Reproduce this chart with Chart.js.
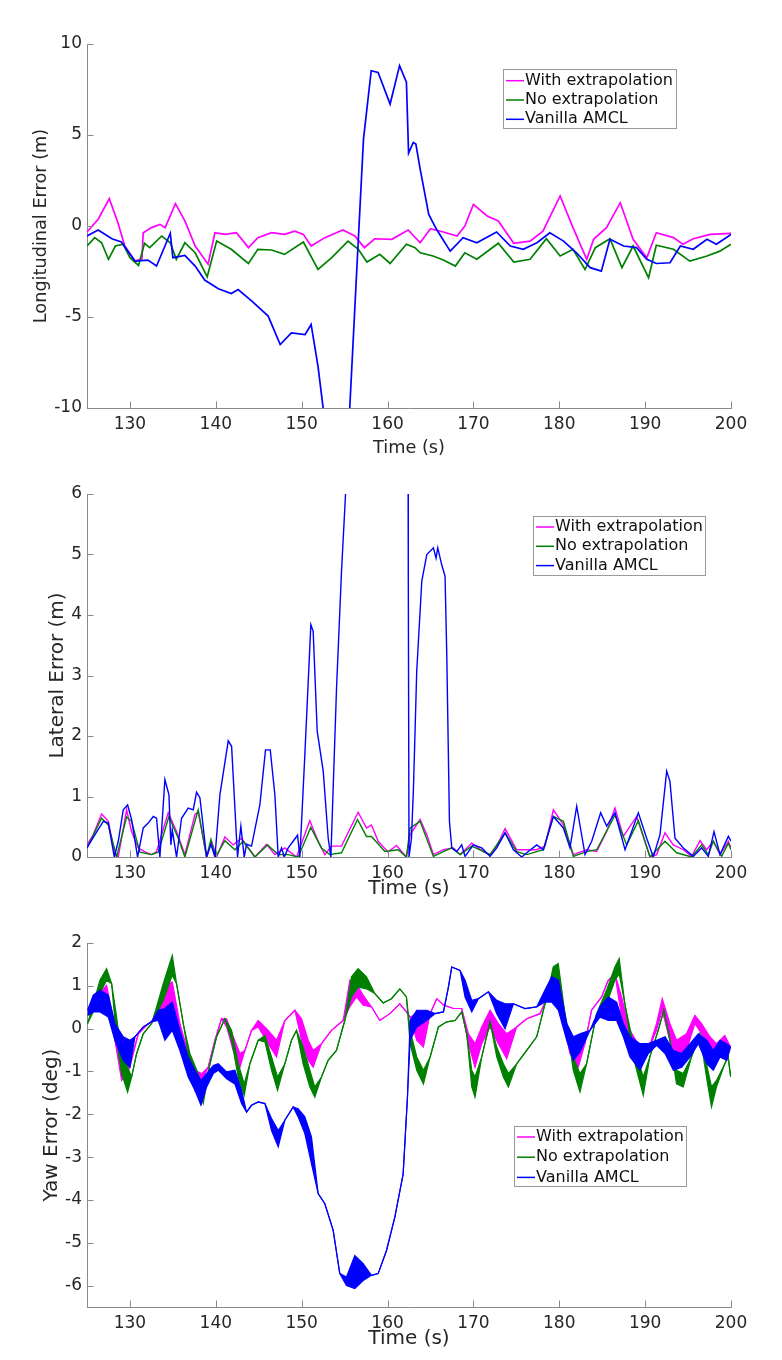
<!DOCTYPE html>
<html>
<head>
<meta charset="utf-8">
<script src="https://cdn.jsdelivr.net/npm/chart.js@4.4.1/dist/chart.umd.min.js"></script>
<style>
  html, body { margin: 0; padding: 0; background: #fff; }
  body { width: 782px; height: 1360px; position: relative; overflow: hidden; }
  .panel { position: absolute; left: 0; width: 782px; }
</style>
</head>
<body>
<div class="panel" style="top:0;height:470px"><canvas id="lonChart" width="782" height="470"></canvas></div>
<div class="panel" style="top:470px;height:450px"><canvas id="latChart" width="782" height="450"></canvas></div>
<div class="panel" style="top:920px;height:440px"><canvas id="yawChart" width="782" height="440"></canvas></div>
<script>
// ---- data ----
const seriesNames = ['With extrapolation', 'No extrapolation', 'Vanilla AMCL'];
const xTickVals = [130, 140, 150, 160, 170, 180, 190, 200];
const lonTickVals = [-10, -5, 0, 5, 10];
const latTickVals = [0, 1, 2, 3, 4, 5, 6];
const yawTickVals = [-6, -5, -4, -3, -2, -1, 0, 1, 2];

// Longitudinal error (m)
const lonWithT = [125, 126.3, 127.6, 128.6, 129.4, 130.6, 131.4, 131.55, 132.5, 133.5, 134.1, 135.3, 136.4, 137.6, 139.1, 139.9, 141.1, 142.4, 143.8, 144.9, 146.5, 148.0, 149.2, 150.2, 151.1, 152.7, 154.8, 156.2, 157.3, 158.5, 160.5, 162.4, 163.8, 165.0, 166.5, 168.1, 169.0, 170.0, 171.6, 172.9, 174.7, 176.6, 178.1, 180.1, 181.6, 183.2, 184.0, 185.5, 187.1, 188.6, 190.2, 191.3, 193.3, 194.4, 195.6, 197.6, 200];
const lonWithV = [-0.33, 0.37, 1.5, 0.18, -1.1, -1.93, -1.8, -0.37, -0.09, 0.09, -0.09, 1.23, 0.28, -1.1, -2.1, -0.37, -0.46, -0.37, -1.19, -0.64, -0.37, -0.46, -0.28, -0.46, -1.1, -0.64, -0.22, -0.55, -1.19, -0.7, -0.73, -0.22, -0.92, -0.15, -0.33, -0.55, 0, 1.19, 0.55, 0.28, -0.95, -0.83, -0.28, 1.65, -0.09, -1.83, -0.73, -0.09, 1.28, -0.73, -1.74, -0.37, -0.64, -1.0, -0.7, -0.46, -0.4];
const lonNoT = [125, 125.9, 126.7, 127.5, 128.3, 129.2, 130.0, 131.0, 131.7, 132.3, 133.7, 134.7, 135.4, 136.4, 137.6, 139.0, 140.1, 141.8, 143.8, 144.9, 146.5, 148.0, 150.2, 151.9, 153.5, 155.4, 156.6, 157.6, 159.1, 160.3, 162.2, 163.2, 163.8, 165.3, 166.5, 167.9, 169.0, 170.4, 172.9, 174.7, 176.6, 178.5, 180.1, 181.6, 183.0, 184.2, 185.9, 187.3, 188.6, 190.4, 191.3, 193.3, 195.2, 197.2, 198.7, 200];
const lonNoV = [-1.1, -0.64, -0.92, -1.83, -1.1, -1.0, -1.74, -2.17, -0.95, -1.19, -0.55, -0.92, -1.83, -0.92, -1.47, -2.79, -0.83, -1.28, -2.06, -1.28, -1.32, -1.56, -0.88, -2.39, -1.74, -0.83, -1.28, -1.98, -1.56, -2.06, -1.0, -1.19, -1.47, -1.65, -1.87, -2.2, -1.47, -1.83, -0.95, -1.98, -1.83, -0.7, -1.65, -1.28, -2.39, -1.19, -0.7, -2.29, -1.1, -2.84, -1.06, -1.28, -1.93, -1.65, -1.38, -1.0];
const lonAmclT = [125, 126.3, 127.9, 129.0, 130.6, 132.1, 133.1, 134.7, 135.0, 136.4, 137.6, 138.7, 140.3, 141.8, 142.6, 144.2, 146.1, 147.5, 148.8, 150.4, 151.1, 151.9, 152.5, 153.2, 155.0, 155.6, 156.4, 157.2, 158.1, 158.9, 160.3, 161.4, 162.2, 162.45, 163.0, 163.3, 163.8, 164.8, 165.7, 167.3, 168.8, 170.4, 172.7, 174.3, 175.8, 177.4, 178.9, 180.5, 182.0, 183.6, 184.9, 185.9, 187.5, 189.0, 190.2, 191.3, 192.9, 194.1, 195.6, 197.2, 198.3, 200];
const lonAmclV = [-0.55, -0.22, -0.7, -0.88, -1.93, -1.87, -2.2, -0.4, -1.74, -1.61, -2.2, -2.97, -3.45, -3.71, -3.49, -4.13, -4.95, -6.51, -5.87, -5.96, -5.41, -7.7, -10, -12.5, -12.5, -10, -2.57, 4.77, 8.53, 8.44, 6.7, 8.81, 7.9, 4.0, 4.59, 4.5, 3.12, 0.64, -0.18, -1.38, -0.64, -0.92, -0.33, -1.1, -1.28, -0.92, -0.37, -0.83, -1.47, -2.29, -2.48, -0.73, -1.1, -1.19, -1.83, -2.06, -2.02, -1.1, -1.28, -0.73, -1.0, -0.46];

// Lateral error (m)
const latWithT = [125, 125.73, 126.7, 127.48, 128.25, 128.64, 129.61, 130.19, 130.97, 131.94, 132.52, 133.1, 134.46, 135.43, 136.4, 137.57, 137.95, 138.93, 139.51, 140.09, 141.06, 142.03, 143.0, 144.55, 145.91, 146.88, 148.04, 149.4, 150.95, 151.92, 152.7, 153.47, 154.64, 156.58, 157.55, 158.13, 158.91, 160.07, 161.04, 162.2, 162.63, 163.79, 164.57, 165.34, 166.5, 167.67, 168.45, 169.81, 171.16, 171.94, 172.72, 173.69, 175.04, 176.21, 177.37, 178.34, 179.31, 180.48, 181.64, 183.19, 184.36, 185.52, 186.49, 187.46, 189.01, 190.57, 191.34, 192.31, 193.28, 194.45, 195.42, 196.39, 197.16, 197.94, 198.72, 199.69, 200];
const latWithV = [0.2, 0.37, 0.71, 0.59, 0.04, 0, 0.78, 0.42, 0.15, 0.07, 0.04, 0.09, 0.73, 0.42, 0.04, 0.7, 0.75, 0, 0.26, 0, 0.33, 0.2, 0.31, 0, 0.21, 0.04, 0.15, 0, 0.6, 0.26, 0.04, 0.18, 0.18, 0.74, 0.48, 0.53, 0.26, 0.08, 0.19, 0, 0.37, 0.62, 0.37, 0.04, 0.12, 0.15, 0.04, 0.23, 0.09, 0.04, 0.18, 0.47, 0.12, 0.12, 0.12, 0.18, 0.78, 0.53, 0.04, 0.12, 0.09, 0.42, 0.81, 0.34, 0.67, 0, 0.04, 0.4, 0.2, 0.12, 0.01, 0.27, 0.12, 0.26, 0.04, 0.26, 0.15];
const latNoT = [125, 126.7, 127.48, 128.45, 129.61, 130.19, 131.16, 132.52, 133.3, 134.54, 135.63, 136.4, 137.95, 138.93, 139.43, 139.98, 141.06, 142.22, 143.19, 144.55, 146.03, 147.27, 148.43, 149.59, 151.06, 152.3, 153.27, 154.64, 156.5, 157.55, 158.13, 159.69, 161.24, 162.2, 162.63, 163.79, 165.34, 166.5, 167.48, 168.45, 169.81, 171.94, 173.69, 175.04, 176.21, 178.15, 179.31, 180.48, 181.64, 183.19, 184.36, 186.49, 187.85, 189.21, 190.57, 192.31, 193.67, 195.42, 196.58, 197.36, 197.94, 198.91, 199.69, 200];
const latNoV = [0.15, 0.64, 0.53, 0, 0.66, 0.59, 0.08, 0.04, 0.08, 0.67, 0.31, 0, 0.78, 0, 0.29, 0, 0.27, 0.12, 0.26, 0, 0.2, 0.04, 0.04, 0, 0.49, 0.15, 0.04, 0.07, 0.62, 0.34, 0.34, 0.09, 0.12, 0, 0.48, 0.59, 0.01, 0.09, 0.15, 0.04, 0.18, 0.04, 0.4, 0.09, 0.04, 0.12, 0.67, 0.59, 0.01, 0.09, 0.12, 0.69, 0.2, 0.6, 0, 0.26, 0.07, 0, 0.2, 0.04, 0.26, 0.01, 0.23, 0.12];
const latAmclT = [125, 125.93, 126.9, 127.48, 128.18, 128.64, 129.22, 129.73, 130.19, 130.89, 131.55, 132.13, 132.72, 133.1, 133.49, 134.07, 134.54, 134.77, 134.93, 135.43, 136.01, 136.79, 137.37, 137.76, 138.15, 138.93, 139.43, 139.9, 140.48, 141.45, 141.84, 142.53, 142.92, 143.31, 143.58, 144.16, 145.13, 145.79, 146.34, 146.88, 147.27, 147.66, 147.97, 148.43, 149.01, 149.52, 149.79, 150.37, 151.07, 151.34, 151.81, 152.51, 153.09, 153.4, 154.06, 154.64, 155.11, 155.6, 162.2, 162.4, 162.42, 162.5, 162.79, 163.02, 163.4, 163.99, 164.57, 165.34, 165.65, 165.85, 166.31, 166.7, 166.9, 167.21, 167.48, 168.06, 168.64, 169.03, 170.0, 170.97, 171.94, 172.72, 173.69, 174.66, 175.63, 176.21, 177.37, 178.15, 179.31, 180.48, 181.25, 182.03, 183.0, 183.78, 184.82, 185.52, 186.49, 187.66, 189.21, 190.18, 190.95, 191.73, 192.51, 192.89, 193.48, 194.45, 195.61, 196.58, 197.36, 198.02, 198.72, 199.69, 200];
const latAmclV = [0.15, 0.37, 0.59, 0.56, 0, 0.26, 0.78, 0.86, 0.62, 0, 0.48, 0.56, 0.67, 0.64, 0, 1.28, 1.03, 0.2, 0.45, 0, 0.64, 0.81, 0.78, 1.07, 0.98, 0, 0.21, 0, 1.03, 1.92, 1.83, 0, 0.51, 0, 0.21, 0.18, 0.86, 1.77, 1.77, 1.03, 0, 0.15, 0, 0.15, 0.26, 0.36, 0, 1.69, 3.84, 3.73, 2.08, 1.42, 0.31, 0, 2.79, 4.72, 6, 7.5, 7.5, 6, 4.55, 0, 0.31, 1.14, 3.07, 4.56, 5.0, 5.11, 4.94, 5.11, 4.83, 4.64, 3.34, 0.59, 0.15, 0.09, 0.2, 0.01, 0.2, 0.15, 0.01, 0.15, 0.4, 0.12, 0, 0.07, 0.2, 0.12, 0.67, 0.48, 0.15, 0.84, 0.04, 0.26, 0.73, 0.51, 0.73, 0.12, 0.73, 0.31, 0, 0.37, 1.42, 1.25, 0.31, 0.15, 0.01, 0.15, 0.01, 0.42, 0.04, 0.34, 0.26];

// Yaw error (deg): upper / lower edge of each trace (the traces jitter into bands)
const yawWithT = [125.07, 126.31, 127.28, 128.25, 129.03, 130, 130.97, 131.94, 132.91, 133.49, 134.27, 134.93, 135.82, 136.79, 137.57, 138.35, 139.12, 139.9, 140.67, 141.26, 142.03, 142.81, 143.39, 144.16, 144.94, 146.1, 147.07, 148.04, 149.21, 149.98, 150.76, 151.34, 152.31, 153.47, 154.83, 155.61, 156.39, 157.16, 158.13, 159.1, 160.27, 161.43, 162.2, 162.63, 163.4, 164.18, 164.96, 165.73, 166.51, 167.67, 168.64, 169.42, 170.19, 170.97, 171.94, 172.91, 173.88, 175.04, 176.21, 177.76, 178.53, 179.3, 180.27, 181.24, 182.21, 182.99, 183.76, 184.93, 185.7, 186.48, 187.26, 188.23, 189.39, 190.36, 191.33, 191.99, 192.88, 193.66, 194.82, 195.79, 196.57, 197.54, 198.31, 199.28, 199.96];
const yawWithHi = [0.47, 0.78, 1.01, 0.04, -0.66, -0.82, -0.12, 0.08, 0.23, 0.5, 1.01, 1.09, 0.12, -0.58, -0.97, -1.05, -0.9, -0.27, 0.23, 0.23, -0.19, -0.58, -0.51, -0.04, 0.19, -0.04, -0.27, 0.19, 0.43, 0.23, -0.27, -0.51, -0.35, -0.04, 0.19, 1.13, 1.05, 0.78, 0.51, 0.19, 0.35, 0.58, 0.39, 0.27, 0.35, 0.27, 0.35, 0.7, 0.55, 0.47, 0.47, -0.12, -0.35, 0.04, 0.43, 0.12, -0.12, 0.04, 0.23, 0.35, 0.7, 1.21, 0.35, -0.27, -0.51, -0.35, 0.43, 0.74, 1.13, 1.28, 0.74, -0.04, -0.43, -0.51, 0.12, 0.7, 0.12, -0.27, -0.12, 0.31, 0.12, -0.19, -0.35, -0.16, -0.43];
const yawWithLo = [0.35, 0.55, 0.66, -0.27, -1.21, -0.9, -0.12, 0.08, 0.23, 0.35, 0.43, 0.58, -0.04, -0.82, -1.44, -1.21, -0.9, -0.27, 0.23, 0.04, -0.51, -0.9, -0.51, -0.04, 0.04, -0.35, -0.66, 0.19, 0.43, -0.27, -0.74, -0.9, -0.35, -0.04, 0.19, 0.51, 0.74, 0.55, 0.51, 0.19, 0.35, 0.58, 0.39, 0.27, -0.27, -0.43, 0.35, 0.7, 0.55, 0.47, 0.47, -0.35, -0.9, -0.35, 0.04, -0.35, -0.7, 0.04, 0.23, 0.35, 0.7, 0.74, 0.35, -0.58, -0.9, -0.35, 0.43, 0.74, 1.13, 1.28, 0.27, -0.35, -0.97, -0.51, -0.04, 0.43, -0.27, -0.66, -0.51, 0.12, -0.12, -0.74, -0.51, -0.39, -0.43];
const yawNoT = [125.07, 125.73, 126.51, 127.28, 127.87, 128.45, 129.03, 129.73, 130.19, 130.78, 131.55, 132.52, 133.1, 133.88, 134.93, 135.43, 136.21, 136.98, 137.95, 138.54, 139.32, 140.09, 141.06, 141.84, 142.61, 143.31, 143.97, 144.94, 145.72, 146.49, 147.19, 148.04, 148.82, 149.4, 150.17, 150.95, 151.53, 152.31, 153.08, 154.05, 155.02, 155.8, 156.58, 157.55, 158.52, 159.49, 160.46, 161.43, 162.2, 162.63, 163.4, 164.18, 164.96, 165.93, 166.9, 167.87, 168.64, 169.22, 169.81, 170.19, 170.97, 171.94, 172.72, 173.49, 174.08, 175.04, 176.21, 177.37, 178.34, 179.3, 179.88, 180.66, 181.63, 182.41, 183.18, 184.35, 185.51, 186.48, 186.98, 187.64, 188.61, 189.78, 190.55, 191.52, 192.18, 192.88, 193.66, 194.43, 195.4, 196.37, 197.15, 197.73, 198.31, 199.28, 199.67, 199.96];
const yawNoHi = [0.12, 0.58, 1.13, 1.4, 1.05, 0.27, -0.66, -0.9, -1.13, -0.58, -0.12, 0.12, 0.5, 1.05, 1.71, 1.05, 0.12, -0.58, -1.05, -1.52, -0.82, -0.19, 0.23, -0.04, -0.82, -1.29, -0.82, -0.27, -0.16, -0.66, -1.13, -0.82, -0.27, -0.04, -0.43, -0.97, -1.36, -1.13, -0.74, -0.51, 0.19, 1.21, 1.4, 1.21, 0.82, 0.6, 0.7, 0.93, 0.74, -0.04, -0.66, -0.97, -0.66, 0.04, 0.16, 0.19, 0.39, -0.12, -0.97, -1.13, -0.66, 0.16, -0.43, -0.82, -1.05, -0.82, -0.51, -0.19, 0.58, 1.44, 1.52, 0.35, -0.66, -1.05, -0.82, 0.35, 0.9, 1.44, 1.64, 0.58, -0.35, -1.13, -0.66, -0.04, 0.43, -0.27, -0.97, -1.05, -0.66, -0.12, -0.82, -1.36, -1.21, -0.82, -0.66, -1.13];
const yawNoLo = [0.12, 0.39, 0.82, 1.13, 1.05, -0.27, -1.05, -1.48, -1.13, -0.58, -0.12, 0.12, 0.35, 0.66, 1.25, 1.05, 0.12, -0.82, -1.44, -1.75, -0.82, -0.19, 0.23, -0.27, -1.13, -1.56, -0.82, -0.27, -0.31, -0.97, -1.44, -0.82, -0.27, -0.04, -0.82, -1.36, -1.6, -1.13, -0.74, -0.51, 0.19, 0.74, 0.97, 0.93, 0.82, 0.6, 0.7, 0.93, 0.74, -0.35, -0.97, -1.29, -0.66, 0.04, 0.16, 0.19, 0.39, -0.12, -1.36, -1.6, -0.66, 0.16, -0.66, -1.13, -1.36, -0.82, -0.51, -0.19, 0.58, 0.97, 1.13, 0.35, -0.97, -1.48, -0.82, 0.35, 0.58, 1.13, 1.28, 0.58, -0.66, -1.56, -0.66, -0.04, 0.43, -0.27, -1.29, -1.36, -0.66, -0.12, -1.13, -1.83, -1.36, -0.82, -0.66, -1.13];
const yawAmclT = [125.07, 125.73, 126.51, 127.48, 128.25, 129.22, 130, 130.58, 131.55, 132.52, 133.3, 134.07, 134.93, 135.82, 136.79, 137.57, 138.27, 138.93, 139.7, 140.28, 141.26, 142.22, 143.0, 143.58, 144.16, 144.94, 145.72, 146.49, 147.27, 148.04, 149.01, 149.59, 150.37, 151.14, 151.92, 152.7, 153.67, 154.44, 155.22, 156.19, 157.16, 158.13, 158.91, 159.88, 160.85, 161.82, 162.32, 162.63, 163.4, 164.57, 165.54, 166.51, 167.09, 167.48, 168.45, 169.03, 169.81, 170.58, 171.75, 172.72, 173.69, 174.66, 176.02, 177.38, 178.34, 179.12, 179.9, 180.87, 181.64, 182.41, 183.58, 184.74, 185.71, 186.68, 187.46, 188.24, 189.4, 190.37, 191.34, 192.32, 193.29, 194.26, 195.23, 196.2, 197.17, 197.94, 198.72, 199.5, 199.96];
const yawAmclHi = [0.43, 0.78, 0.9, 0.78, 0.12, -0.19, -0.27, -0.19, 0.04, 0.16, 0.43, 0.47, 0.62, -0.04, -0.66, -0.97, -1.21, -1.05, -0.86, -0.82, -1.01, -0.97, -1.44, -1.95, -1.79, -1.71, -1.75, -2.1, -2.38, -2.14, -1.83, -1.87, -2.06, -2.53, -3.85, -4.09, -4.71, -5.72, -5.8, -5.3, -5.49, -5.76, -5.72, -5.18, -4.4, -3.39, -1.6, 0.19, 0.43, 0.43, 0.35, 0.39, 0.97, 1.44, 1.36, 1.13, 0.66, 0.7, 0.86, 0.66, 0.58, 0.58, 0.47, 0.51, 0.9, 1.21, 1.13, 0.12, -0.19, -0.12, -0.04, 0.51, 0.74, 0.62, 0.12, -0.19, -0.35, -0.35, -0.27, -0.19, -0.51, -0.58, -0.35, -0.12, -0.27, -0.51, -0.27, -0.35, -0.43];
const yawAmclLo = [0.31, 0.39, 0.39, 0.27, -0.27, -0.74, -0.9, -0.19, 0.04, 0.16, 0.19, -0.27, -0.04, -0.51, -1.13, -1.44, -1.79, -1.36, -1.05, -0.97, -1.17, -1.29, -1.75, -1.95, -1.79, -1.71, -1.75, -2.38, -2.76, -2.14, -1.83, -2.06, -2.45, -3.15, -3.85, -4.09, -4.71, -5.72, -6.0, -6.07, -5.88, -5.76, -5.72, -5.18, -4.4, -3.39, -1.6, -0.27, 0.04, 0.19, 0.35, 0.39, 0.97, 1.44, 1.36, 0.74, 0.39, 0.7, 0.86, 0.35, 0, 0.58, 0.47, 0.51, 0.62, 0.62, 0.43, -0.27, -0.74, -0.55, -0.04, 0.27, 0.19, 0.19, -0.19, -0.66, -0.97, -0.58, -0.39, -0.58, -0.97, -0.9, -0.66, -0.35, -0.82, -0.97, -0.66, -0.74, -0.43];

// ---- styling ----
const colors = ['#ff00ff', '#008000', '#0000ff'];
const axisColor = '#8a8a8a';
const textColor = '#262626';
const fontFamily = '"DejaVu Sans", Verdana, sans-serif';

function pts(ts, vs) {
  return ts.map((t, i) => ({ x: t, y: vs[i] }));
}

// MATLAB style ticks pointing into the axes
const inwardTicks = {
  id: 'inwardTicks',
  afterDatasetsDraw(chart) {
    const { ctx, chartArea: a, scales: { x, y } } = chart;
    ctx.save();
    ctx.strokeStyle = axisColor;
    ctx.lineWidth = 1;
    ctx.beginPath();
    x.ticks.forEach(t => {
      const px = Math.round(x.getPixelForValue(t.value)) + 0.5;
      ctx.moveTo(px, a.bottom);
      ctx.lineTo(px, a.bottom - 6.5);
    });
    y.ticks.forEach(t => {
      const py = Math.round(y.getPixelForValue(t.value)) + 0.5;
      ctx.moveTo(a.left, py);
      ctx.lineTo(a.left + 6.5, py);
    });
    ctx.stroke();
    ctx.restore();
  }
};

// boxed legend sitting inside the axes
const boxLegend = {
  id: 'boxLegend',
  afterDraw(chart, args, opts) {
    const ctx = chart.ctx;
    ctx.save();
    ctx.fillStyle = '#fff';
    ctx.fillRect(opts.x, opts.y, opts.w, opts.h);
    ctx.strokeStyle = '#9a9a9a';
    ctx.lineWidth = 1;
    ctx.strokeRect(opts.x + 0.5, opts.y + 0.5, opts.w, opts.h);
    ctx.font = '16px ' + fontFamily;
    ctx.textBaseline = 'middle';
    seriesNames.forEach((name, i) => {
      const cy = opts.y + opts.rowTop + i * opts.rowGap;
      ctx.strokeStyle = colors[i];
      ctx.lineWidth = 1.5;
      ctx.beginPath();
      ctx.moveTo(opts.x + 3, cy);
      ctx.lineTo(opts.x + 21, cy);
      ctx.stroke();
      ctx.fillStyle = '#111';
      ctx.fillText(name, opts.x + 22, cy);
    });
    ctx.restore();
  }
};

function xAxis(height, titleSize, titlePad) {
  return {
    type: 'linear', min: 125, max: 200,
    afterBuildTicks: s => { s.ticks = xTickVals.map(v => ({ value: v })); },
    afterFit: s => { s.height = height; },
    grid: { display: false, drawTicks: false },
    border: { display: true, color: axisColor, width: 1 },
    ticks: { color: textColor, font: { family: fontFamily, size: 17 }, padding: 6, maxRotation: 0 },
    title: { display: true, text: 'Time (s)', color: textColor,
             font: { family: fontFamily, size: titleSize }, padding: { top: 0, bottom: titlePad } }
  };
}

function yAxis(min, max, tickVals, title, titleSize, titlePad) {
  return {
    type: 'linear', min: min, max: max,
    afterBuildTicks: s => { s.ticks = tickVals.map(v => ({ value: v })); },
    afterFit: s => { s.width = 87; },
    grid: { display: false, drawTicks: false },
    border: { display: true, color: axisColor, width: 1 },
    ticks: { color: textColor, font: { family: fontFamily, size: 17 }, padding: 5 },
    title: { display: true, text: title, color: textColor,
             font: { family: fontFamily, size: titleSize }, padding: { top: titlePad, bottom: 0 } }
  };
}

function line(data, i, width, order) {
  return { label: seriesNames[i], data: data, borderColor: colors[i], backgroundColor: colors[i],
           borderWidth: width, pointRadius: 0, showLine: true, fill: false, tension: 0, order: order };
}

function band(hi, lo, i, width, order) {
  return [
    { label: seriesNames[i], data: hi, borderColor: colors[i], borderWidth: width, pointRadius: 0,
      showLine: true, fill: false, order: order },
    { label: seriesNames[i] + ' lo', data: lo, borderColor: colors[i], backgroundColor: colors[i],
      borderWidth: width, pointRadius: 0, showLine: true, fill: '-1', order: order }
  ];
}

function makeChart(id, datasets, scales, padTop, legend) {
  return new Chart(document.getElementById(id), {
    type: 'scatter',
    data: { datasets: datasets },
    options: {
      responsive: false, animation: false, devicePixelRatio: 1,
      layout: { padding: { top: padTop, right: 51, left: 0, bottom: 0 } },
      plugins: { legend: { display: false }, tooltip: { enabled: false }, boxLegend: legend },
      scales: scales
    },
    plugins: [inwardTicks, boxLegend]
  });
}

makeChart('lonChart', [
  line(pts(lonWithT, lonWithV), 0, 1.7, 3),
  line(pts(lonNoT, lonNoV), 1, 1.7, 2),
  line(pts(lonAmclT, lonAmclV), 2, 1.7, 1)
], {
  x: xAxis(62, 17.7, 11),
  y: yAxis(-10, 10, lonTickVals, 'Longitudinal Error (m)', 17.7, 31)
}, 44, { x: 503, y: 69, w: 173, h: 59, rowTop: 11.7, rowGap: 19.3 });

makeChart('latChart', [
  line(pts(latWithT, latWithV), 0, 1.4, 3),
  line(pts(latNoT, latNoV), 1, 1.4, 2),
  line(pts(latAmclT, latAmclV), 2, 1.4, 1)
], {
  x: xAxis(63, 20, 19),
  y: yAxis(0, 6, latTickVals, 'Lateral Error (m)', 20, 46)
}, 24, { x: 533, y: 46, w: 172, h: 59, rowTop: 11, rowGap: 19.3 });

makeChart('yawChart', [
  ...band(pts(yawWithT, yawWithHi), pts(yawWithT, yawWithLo), 0, 1.2, 3),
  ...band(pts(yawNoT, yawNoHi), pts(yawNoT, yawNoLo), 1, 1.2, 2),
  ...band(pts(yawAmclT, yawAmclHi), pts(yawAmclT, yawAmclLo), 2, 1.2, 1)
], {
  x: xAxis(53, 20, 9),
  y: yAxis(-6.5, 2, yawTickVals, 'Yaw Error (deg)', 20, 40)
}, 23, { x: 514, y: 206, w: 172, h: 60, rowTop: 11, rowGap: 20.2 });
</script>
</body>
</html>
